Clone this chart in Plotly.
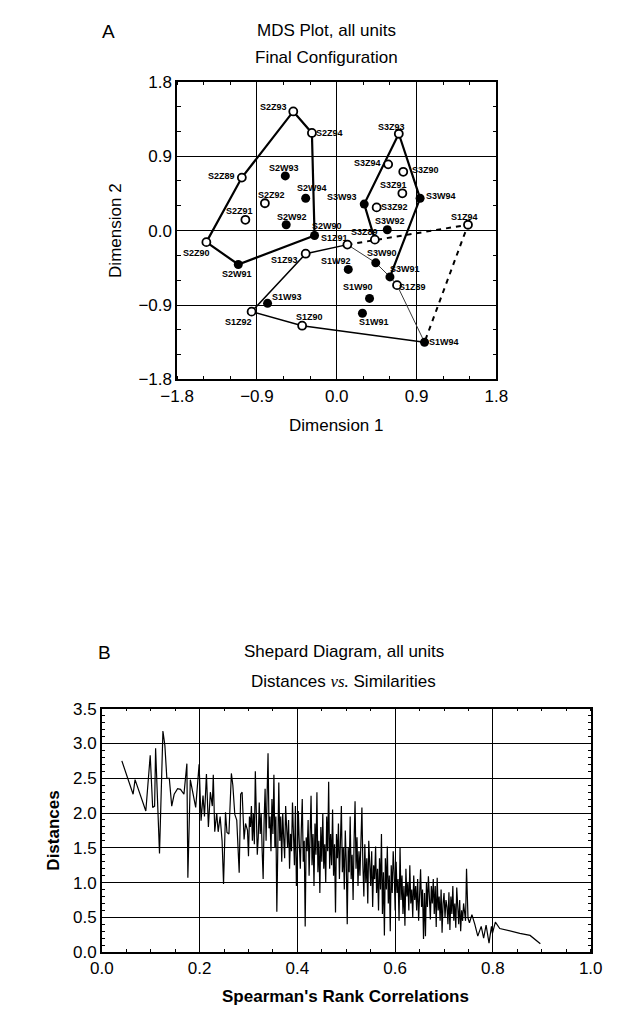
import plotly.graph_objects as go

W, H = 617, 1021

# ---------------- Panel A: MDS final configuration ----------------
unit_labels = [
    "S2Z89", "S2Z90", "S2Z91", "S2Z92", "S2Z93", "S2Z94",
    "S2W90", "S2W91", "S2W92", "S2W93", "S2W94",
    "S1Z89", "S1Z90", "S1Z91", "S1Z92", "S1Z93", "S1Z94",
    "S1W90", "S1W91", "S1W92", "S1W93", "S1W94",
    "S3Z89", "S3Z90", "S3Z91", "S3Z92", "S3Z93", "S3Z94",
    "S3W90", "S3W91", "S3W92", "S3W93", "S3W94",
]
dim1 = [
    -1.07, -1.47, -1.03, -0.81, -0.49, -0.28,
    -0.25, -1.11, -0.57, -0.58, -0.35,
    0.68, -0.39, 0.12, -0.96, -0.35, 1.48,
    0.37, 0.29, 0.13, -0.78, 0.99,
    0.43, 0.75, 0.74, 0.45, 0.70, 0.58,
    0.44, 0.60, 0.57, 0.31, 0.94,
]
dim2 = [
    0.64, -0.14, 0.13, 0.33, 1.44, 1.18,
    -0.06, -0.41, 0.07, 0.66, 0.39,
    -0.66, -1.15, -0.17, -0.98, -0.28, 0.07,
    -0.82, -1.00, -0.47, -0.88, -1.35,
    -0.11, 0.71, 0.45, 0.28, 1.17, 0.80,
    -0.39, -0.56, 0.01, 0.32, 0.39,
]
mds_ticks = [-1.8, -0.9, 0.0, 0.9, 1.8]

# connecting paths between units
s2_path = ["S2Z90", "S2Z89", "S2Z93", "S2Z94", "S2W90", "S2W91", "S2Z90"]
s3_path = ["S3Z89", "S3W93", "S3Z93", "S3W94", "S3W91"]
s1_solid_path = ["S1W94", "S1Z90", "S1Z92", "S1Z93", "S1Z91"]
s1_thin_path = ["S1Z91", "S3W90", "S3W91", "S1Z89", "S1W94"]
s1_dash_path = ["S1Z91", "S1Z94", "S1W94"]

# ---------------- Panel B: Shepard diagram ----------------
rank_corr = [
    # 0.04 - 0.20
    0.041, 0.064, 0.068, 0.090, 0.099, 0.104, 0.108, 0.110, 0.118, 0.122,
    0.125, 0.129, 0.133, 0.138, 0.143, 0.148, 0.155, 0.161, 0.168, 0.174,
    0.176, 0.181, 0.186, 0.192, 0.197, 0.199, 0.203,
    # 0.20 - 0.30
    0.205, 0.207, 0.210, 0.214, 0.218, 0.222, 0.226, 0.228, 0.231, 0.235,
    0.238, 0.242, 0.246, 0.249, 0.253, 0.256, 0.260, 0.265, 0.268, 0.272,
    0.276, 0.281, 0.284, 0.287, 0.291, 0.294, 0.298,
    # 0.30 - 0.40
    0.300, 0.302, 0.304, 0.306, 0.308, 0.310, 0.312, 0.314, 0.316, 0.318,
    0.320, 0.322, 0.324, 0.326, 0.328, 0.330, 0.332, 0.334, 0.336, 0.338,
    0.340, 0.342, 0.344, 0.346, 0.348, 0.350, 0.352, 0.354, 0.356, 0.358,
    0.360, 0.362, 0.364, 0.366, 0.368, 0.370, 0.372, 0.374, 0.376, 0.378,
    0.380, 0.382, 0.384, 0.386, 0.388, 0.390, 0.392, 0.394, 0.396, 0.398,
    # 0.40 - 0.60
    0.400, 0.402, 0.404, 0.406, 0.408, 0.410, 0.412, 0.414, 0.416, 0.418,
    0.420, 0.422, 0.424, 0.426, 0.428, 0.430, 0.432, 0.434, 0.436, 0.438,
    0.440, 0.442, 0.444, 0.446, 0.448, 0.450, 0.452, 0.454, 0.456, 0.458,
    0.460, 0.462, 0.464, 0.466, 0.468, 0.470, 0.472, 0.474, 0.476, 0.478,
    0.480, 0.482, 0.484, 0.486, 0.488, 0.490, 0.492, 0.494, 0.496, 0.498,
    0.500, 0.502, 0.504, 0.506, 0.508, 0.510, 0.512, 0.514, 0.516, 0.518,
    0.520, 0.522, 0.524, 0.526, 0.528, 0.530, 0.532, 0.534, 0.536, 0.538,
    0.540, 0.542, 0.544, 0.546, 0.548, 0.550, 0.552, 0.554, 0.556, 0.558,
    0.560, 0.562, 0.564, 0.566, 0.568, 0.570, 0.572, 0.574, 0.576, 0.578,
    0.580, 0.582, 0.584, 0.586, 0.588, 0.590, 0.592, 0.594, 0.596, 0.598,
    # 0.60 - 0.75
    0.600, 0.602, 0.604, 0.606, 0.608, 0.610, 0.612, 0.614, 0.616, 0.618,
    0.620, 0.622, 0.624, 0.626, 0.628, 0.630, 0.632, 0.634, 0.636, 0.638,
    0.640, 0.642, 0.644, 0.646, 0.648, 0.650, 0.652, 0.654, 0.656, 0.658,
    0.660, 0.662, 0.664, 0.666, 0.668, 0.670, 0.672, 0.674, 0.676, 0.678,
    0.680, 0.682, 0.684, 0.686, 0.688, 0.690, 0.692, 0.694, 0.696, 0.698,
    0.700, 0.702, 0.704, 0.706, 0.708, 0.710, 0.712, 0.714, 0.716, 0.718,
    0.720, 0.722, 0.724, 0.726, 0.728, 0.730, 0.732, 0.734, 0.736, 0.738,
    0.740, 0.742, 0.744, 0.746,
    # tail
    0.749, 0.752, 0.757, 0.763, 0.769, 0.776, 0.781, 0.786, 0.792, 0.797,
    0.799, 0.805, 0.814, 0.855, 0.876, 0.897,
]
distances = [
    # 0.04 - 0.20
    2.75, 2.27, 2.48, 2.03, 2.83, 2.08, 2.10, 2.93, 1.42, 2.60,
    3.18, 2.97, 2.50, 2.50, 2.10, 2.27, 2.35, 2.34, 2.27, 2.71,
    1.07, 2.48, 2.30, 2.08, 2.52, 2.70, 1.89,
    # 0.20 - 0.30
    2.05, 2.25, 1.95, 2.56, 1.80, 2.30, 2.10, 2.55, 1.73, 2.00,
    1.73, 1.95, 1.60, 0.98, 2.01, 1.72, 1.70, 2.57, 2.40, 1.98,
    1.90, 1.14, 2.27, 2.30, 1.62, 1.85, 1.75,
    # 0.30 - 0.40
    1.38, 1.95, 1.80, 2.10, 1.60, 2.00, 1.55, 2.60, 1.78, 1.40,
    1.65, 2.15, 1.70, 2.00, 1.45, 1.05, 1.90, 2.35, 1.60, 2.45,
    2.86, 1.78, 1.95, 1.45, 2.20, 1.70, 2.55, 1.50, 1.95, 0.58,
    1.78, 2.44, 1.60, 1.95, 1.30, 2.00, 1.65, 1.35, 2.10, 1.85,
    1.50, 1.90, 1.20, 1.70, 1.45, 2.15, 1.60, 1.25, 2.10, 0.95,
    # 0.40 - 0.60
    1.40, 2.03, 1.55, 1.20, 1.75, 2.20, 1.30, 1.60, 0.37, 1.65,
    1.45, 1.90, 1.10, 1.60, 2.25, 1.25, 1.70, 0.95, 1.85, 1.40,
    2.30, 1.15, 1.60, 0.85, 1.80, 1.30, 2.00, 1.20, 1.55, 1.00,
    1.95, 1.45, 2.45, 1.20, 1.70, 1.25, 2.05, 1.10, 1.55, 0.57,
    1.70, 1.35, 1.85, 1.05, 1.60, 2.10, 1.15, 1.50, 0.90, 1.75,
    1.30, 0.40, 1.50, 1.15, 1.95, 1.05, 1.40, 0.75, 1.60, 2.17,
    1.20, 1.65, 0.95, 1.45, 1.10, 1.75, 2.08, 1.25, 0.80, 1.55,
    1.00, 1.35, 0.70, 1.60, 1.15, 0.95, 1.45, 0.65, 1.25, 1.05,
    1.52, 0.85, 1.20, 0.60, 1.35, 0.90, 1.70, 0.55, 1.15, 0.24,
    1.35, 0.90, 1.52, 0.70, 1.10, 0.30, 1.25, 0.85, 1.45, 1.15,
    # 0.60 - 0.75
    0.60, 1.30, 0.85, 1.05, 0.45, 1.51, 0.75, 1.10, 0.55, 0.95,
    0.38, 1.20, 0.80, 1.00, 0.60, 1.25, 0.70, 0.90, 0.50, 1.10,
    0.75, 0.95, 0.60, 1.05, 0.45, 0.85, 1.19, 0.65, 0.90, 0.19,
    0.85, 0.23, 1.00, 0.65, 1.09, 0.80, 0.47, 0.95, 0.70, 1.05,
    0.55, 0.95, 0.36, 1.07, 0.60, 0.80, 0.45, 0.90, 0.28, 0.70,
    0.85, 0.50, 0.75, 0.65, 0.40, 0.86, 0.32, 0.80, 0.55, 0.95,
    0.45, 0.70, 0.35, 0.93, 0.55, 0.40, 0.75, 0.30, 0.60, 0.45,
    0.70, 0.50, 0.45, 1.20,
    # tail
    0.49, 0.42, 0.54, 0.40, 0.23, 0.37, 0.20, 0.39, 0.13, 0.37,
    0.27, 0.43, 0.34, 0.27, 0.24, 0.12,
]
shep_xticks = [0.0, 0.2, 0.4, 0.6, 0.8, 1.0]
shep_yticks = [0.0, 0.5, 1.0, 1.5, 2.0, 2.5, 3.0, 3.5]

# ---------------- layout helpers ----------------
def fx(px):
    return px / W


def fy(py):
    return 1 - py / H


FONT = "Liberation Sans, Arial, sans-serif"

# label offsets (pixels, +y is up) for each unit label
label_offsets = {
    "S2Z93": (-20, 4), "S2Z94": (18, 0), "S2Z89": (-20, 2), "S2W93": (-1, 8),
    "S2W94": (6, 10), "S2Z92": (7, 8), "S2Z91": (-6, 9), "S2W92": (6, 8),
    "S2W90": (12, 10), "S2Z90": (-10, -11), "S2W91": (-1, -10),
    "S1Z93": (-21, -6), "S1W93": (19, 6), "S1Z92": (-13, -10), "S1Z90": (7, 9),
    "S3Z93": (-7, 7), "S3Z94": (-21, 1), "S3Z90": (22, 2), "S3Z91": (-9, 8),
    "S3W94": (21, 2), "S3W93": (-22, 7), "S3Z92": (18, 0), "S3W92": (3, 9),
    "S1Z94": (-3, 8), "S3Z89": (-10, 8), "S1Z91": (-13, 7), "S1W92": (-12, 8),
    "S3W90": (6, 10), "S3W91": (15, 8), "S1Z89": (15, -2), "S1W90": (-12, 11),
    "S1W91": (12, -9), "S1W94": (19, 0),
}

pos = {n: (x, y) for n, x, y in zip(unit_labels, dim1, dim2)}

fig = go.Figure()


def add_path(names, width, color="black", dash="solid"):
    fig.add_trace(go.Scatter(
        x=[pos[n][0] for n in names], y=[pos[n][1] for n in names],
        mode="lines", line=dict(color=color, width=width, dash=dash),
        xaxis="x", yaxis="y", showlegend=False, hoverinfo="skip",
    ))


add_path(s1_thin_path, 1.0, color="#3a3a3a")
add_path(s1_dash_path, 2.0, dash="5px,5px")
add_path(s1_solid_path, 1.5)
add_path(s2_path, 2.2)
add_path(s3_path, 2.2)

open_idx = [i for i, n in enumerate(unit_labels) if n[2] == "Z"]
filled_idx = [i for i, n in enumerate(unit_labels) if n[2] == "W"]

fig.add_trace(go.Scatter(
    x=[dim1[i] for i in open_idx], y=[dim2[i] for i in open_idx],
    mode="markers", xaxis="x", yaxis="y", showlegend=False,
    marker=dict(symbol="circle", size=8, color="white",
                line=dict(color="black", width=1.8)),
    text=[unit_labels[i] for i in open_idx], hoverinfo="text",
))
fig.add_trace(go.Scatter(
    x=[dim1[i] for i in filled_idx], y=[dim2[i] for i in filled_idx],
    mode="markers", xaxis="x", yaxis="y", showlegend=False,
    marker=dict(symbol="circle", size=9, color="black",
                line=dict(color="black", width=0)),
    text=[unit_labels[i] for i in filled_idx], hoverinfo="text",
))

annotations = []
for n, x, y in zip(unit_labels, dim1, dim2):
    dx, dy = label_offsets[n]
    annotations.append(dict(
        x=x, y=y, xref="x", yref="y", text="<b>%s</b>" % n, showarrow=False,
        xshift=dx, yshift=dy, font=dict(family=FONT, size=9, color="black"),
        xanchor="center", yanchor="middle",
    ))

# Shepard diagram line
fig.add_trace(go.Scatter(
    x=rank_corr, y=distances, mode="lines", xaxis="x2", yaxis="y2",
    line=dict(color="black", width=1.2), showlegend=False,
))

axis_common = dict(
    showline=True, linecolor="black", linewidth=1.5, mirror="allticks",
    showgrid=True, gridcolor="black", gridwidth=1.3, zeroline=False,
    ticks="", tickfont=dict(family=FONT, size=17, color="black"),
)

fig.update_layout(
    width=W, height=H, margin=dict(l=0, r=0, t=0, b=0),
    paper_bgcolor="white", plot_bgcolor="white",
    xaxis=dict(domain=[fx(168), fx(503)], range=[-1.8, 1.8],
               tickvals=mds_ticks, tickformat=".1f", anchor="y",
               minor=dict(ticks="inside", ticklen=4, dtick=0.3,
                          tickcolor="black", showgrid=False),
               **axis_common),
    yaxis=dict(domain=[fy(377.5), fy(74)], range=[-1.8, 1.8],
               tickvals=mds_ticks, tickformat=".1f", anchor="x",
               minor=dict(ticks="inside", ticklen=4, dtick=0.3,
                          tickcolor="black", showgrid=False),
               **axis_common),
    xaxis2=dict(domain=[fx(89), fx(602)], range=[0, 1],
                tickvals=shep_xticks, tickformat=".1f", anchor="y2",
                minor=dict(ticks="inside", ticklen=3, dtick=0.05,
                           tickcolor="black", showgrid=False),
                **axis_common),
    yaxis2=dict(domain=[fy(961), fy(713)], range=[0, 3.5],
                tickvals=shep_yticks, tickformat=".1f", anchor="x2",
                minor=dict(ticks="inside", ticklen=3, dtick=0.1,
                           tickcolor="black", showgrid=False),
                **axis_common),
)

title_font = dict(family=FONT, size=17, color="black")
annotations += [
    dict(text="A", x=fx(96), y=fy(23), font=dict(family=FONT, size=19)),
    dict(text="MDS Plot, all units", x=fx(325), y=fy(22), font=title_font),
    dict(text="Final Configuration", x=fx(325), y=fy(49), font=title_font),
    dict(text="Dimension 1", x=fx(335), y=fy(424), font=title_font),
    dict(text="Dimension 2", x=fx(104), y=fy(226), font=title_font,
         textangle=-90),
    dict(text="B", x=fx(92), y=fy(656), font=dict(family=FONT, size=19)),
    dict(text="Shepard Diagram, all units", x=fx(343), y=fy(655),
         font=title_font),
    dict(text='Distances <span style="font-family:Liberation Serif"><i>vs.</i></span> Similarities',
         x=fx(343), y=fy(685), font=title_font),
    dict(text="<b>Spearman's Rank Correlations</b>", x=fx(345), y=fy(1006),
         font=title_font),
    dict(text="<b>Distances</b>", x=fx(38), y=fy(837), font=title_font,
         textangle=-90),
]
for a in annotations[len(unit_labels):]:
    a.update(xref="paper", yref="paper", showarrow=False,
             xanchor="center", yanchor="middle")
    a.setdefault("font", title_font)
    a["font"].setdefault("color", "black")

fig.update_layout(annotations=annotations)

fig.write_html("out.html")
